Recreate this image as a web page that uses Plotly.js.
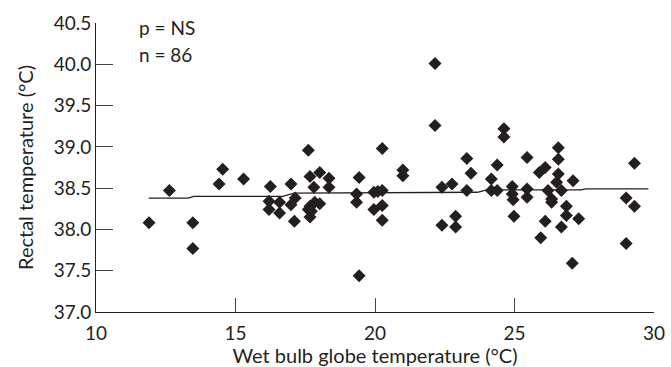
<!DOCTYPE html>
<html><head><meta charset="utf-8">
<script src="https://cdn.plot.ly/plotly-3.0.1.min.js"></script>
<style>html,body{margin:0;padding:0;background:#fff}#chart{width:671px;height:367px}</style>
</head><body><div id="chart"></div>
<script>
var wbgt = [11.90,12.63,13.47,13.47,14.54,14.41,15.29,
16.25,16.99,17.67,18.02,18.35,18.35,17.81,16.20,16.58,16.20,16.58,16.99,17.14,17.11,17.67,17.61,17.84,18.02,17.67,17.61,
19.43,19.34,19.34,19.96,20.26,20.26,19.96,20.26,21.00,21.00,20.26,19.43,22.15,22.15,
24.62,24.62,23.29,23.44,24.38,24.17,22.40,22.76,23.29,24.17,24.38,24.92,24.92,24.95,24.98,22.40,22.89,22.89,
26.57,25.45,26.57,25.89,26.10,26.57,26.51,27.10,25.45,25.45,26.68,26.33,26.33,26.86,26.86,27.30,26.10,26.68,25.94,27.07,
29.00,29.30,29.00,29.30,
17.72,20.10,26.20];
var rectal = [38.08,38.47,38.08,37.77,38.73,38.55,38.61,
38.52,38.55,38.64,38.69,38.62,38.51,38.51,38.34,38.33,38.24,38.20,38.30,38.38,38.10,38.28,38.24,38.33,38.31,38.15,38.96,
38.63,38.43,38.33,38.45,38.47,38.29,38.24,38.11,38.72,38.65,38.98,37.44,40.01,39.26,
39.22,39.12,38.86,38.68,38.78,38.61,38.51,38.55,38.47,38.47,38.47,38.52,38.43,38.36,38.16,38.05,38.16,38.03,
38.99,38.87,38.85,38.69,38.75,38.67,38.57,38.59,38.49,38.39,38.47,38.37,38.33,38.28,38.17,38.13,38.10,38.03,37.90,37.59,
38.38,38.80,37.83,38.28,
38.22,38.46,38.47];
var fitX = [11.89,13.30,13.50,16.70,17.10,23.67,24.00,27.40,27.55,29.80];
var fitY = [38.38,38.38,38.40,38.40,38.44,38.45,38.48,38.48,38.49,38.49];
var xTicks = [10,15,20,25,30];
var yTicks = [37.0,37.5,38.0,38.5,39.0,39.5,40.0,40.5];
var yTickText = yTicks.map(function(v){return v.toFixed(1);});

var font = "Lato, 'Noto Sans', sans-serif";
var ink = '#231f20';
var traces = [
  {x: fitX, y: fitY, mode: 'lines', line: {color: ink, width: 1.3}, hoverinfo: 'skip', showlegend: false},
  {x: wbgt, y: rectal, mode: 'markers', marker: {symbol: 'diamond', size: 10, color: ink}, showlegend: false}
];
var layout = {
  width: 671, height: 367,
  margin: {l: 96, r: 17, t: 23, b: 55},
  paper_bgcolor: '#fff', plot_bgcolor: '#fff',
  font: {family: font, color: ink, size: 19},
  xaxis: {range: [10, 30], tickvals: xTicks, ticktext: xTicks.map(String), ticks: 'inside', ticklen: 14, tickcolor: '#444', tickwidth: 1,
          ticklabelstandoff: 4, automargin: false,
          showline: true, linecolor: '#222', linewidth: 1, showgrid: false, zeroline: false, tickfont: {size: 19, color: ink},
          title: {text: 'Wet bulb globe temperature (°C)', font: {size: 20, color: ink}, standoff: 10}},
  yaxis: {range: [37, 40.5], tickvals: yTicks, ticktext: yTickText, ticks: 'inside', ticklen: 17, tickcolor: '#444', tickwidth: 1,
          automargin: false,
          showline: true, linecolor: '#222', linewidth: 1, showgrid: false, zeroline: false, tickfont: {size: 19, color: ink},
          title: {text: 'Rectal temperature (°C)', font: {size: 20, color: ink}, standoff: 14}},
  annotations: [
    {xref: 'paper', yref: 'paper', x: 0.074, y: 0.985, xanchor: 'left', yanchor: 'middle', text: 'p = NS', showarrow: false, font: {size: 19, color: ink}},
    {xref: 'paper', yref: 'paper', x: 0.074, y: 0.89, xanchor: 'left', yanchor: 'middle', text: 'n = 86', showarrow: false, font: {size: 19, color: ink}}
  ]
};
Plotly.newPlot('chart', traces, layout, {displayModeBar: false, staticPlot: true});
</script></body></html>
